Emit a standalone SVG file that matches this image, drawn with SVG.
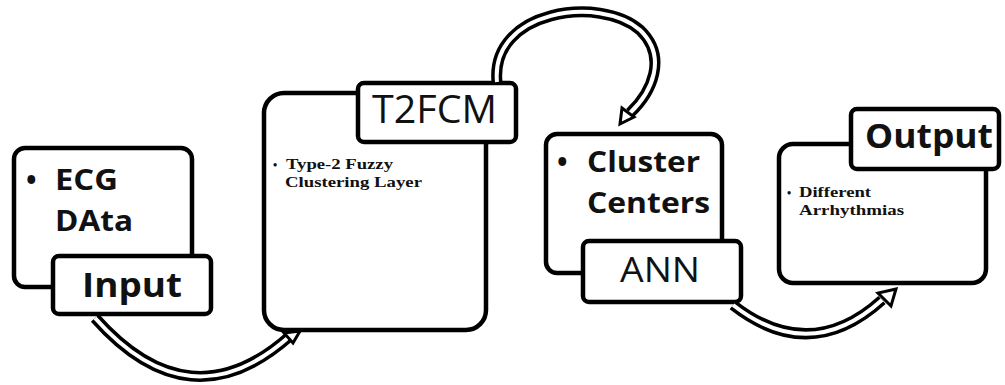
<svg xmlns="http://www.w3.org/2000/svg" width="1005" height="385" viewBox="0 0 1005 385">
<style>
.box{fill:#fff;stroke:#000;stroke-width:4.5}
.lb{fill:#fff;stroke:#000;stroke-width:4.5}
.sb{font-family:"Open Sans","Liberation Sans",sans-serif;font-weight:bold;fill:#111}
.sr{font-family:"Open Sans","Liberation Sans",sans-serif;font-weight:normal;fill:#111}
.tb{font-family:"Liberation Serif","Times New Roman",serif;font-weight:bold;fill:#111}
.ao{fill:none;stroke:#000;stroke-width:11}
.ai{fill:none;stroke:#fff;stroke-width:4}
.ah{fill:#fff;stroke:#000;stroke-width:3;stroke-linejoin:miter}
</style>
<rect width="1005" height="385" fill="#fff"/>
<g id="node-ecg">
<rect class="box" x="14" y="148" width="178" height="139" rx="11"/>
<text class="sb" x="26" y="190" font-size="28">•</text>
<text class="sb" x="55" y="190" font-size="29" textLength="63" lengthAdjust="spacingAndGlyphs">ECG</text>
<text class="sb" x="55" y="231" font-size="29" textLength="78" lengthAdjust="spacingAndGlyphs">DAta</text>
<rect class="lb" x="53" y="256" width="158" height="58" rx="6"/>
<text class="sb" x="82" y="297" font-size="34" textLength="100" lengthAdjust="spacingAndGlyphs">Input</text>
</g>
<g id="node-t2fcm">
<rect class="box" x="264" y="93" width="222" height="237" rx="20"/>
<text class="tb" x="273" y="169" font-size="12">•</text>
<text class="tb" x="286" y="169" font-size="15" textLength="107" lengthAdjust="spacingAndGlyphs">Type-2 Fuzzy</text>
<text class="tb" x="285" y="187" font-size="15" textLength="137" lengthAdjust="spacingAndGlyphs">Clustering Layer</text>
<rect class="lb" x="358" y="83" width="158" height="59" rx="6"/>
<text class="sr" x="372" y="123" font-size="38" textLength="125" lengthAdjust="spacingAndGlyphs">T2FCM</text>
</g>
<g id="node-cluster">
<rect class="box" x="546" y="134" width="176" height="139" rx="11"/>
<text class="sb" x="557" y="172" font-size="28">•</text>
<text class="sb" x="587" y="172" font-size="29" textLength="113" lengthAdjust="spacingAndGlyphs">Cluster</text>
<text class="sb" x="587" y="213" font-size="29" textLength="123" lengthAdjust="spacingAndGlyphs">Centers</text>
<rect class="lb" x="583" y="241" width="158" height="61" rx="6"/>
<text class="sr" x="620" y="282" font-size="35" textLength="80" lengthAdjust="spacingAndGlyphs">ANN</text>
</g>
<g id="node-output">
<rect class="box" x="779" y="144" width="207" height="139" rx="14"/>
<text class="tb" x="787" y="197" font-size="12">•</text>
<text class="tb" x="799" y="197" font-size="14" textLength="72" lengthAdjust="spacingAndGlyphs">Different</text>
<text class="tb" x="799" y="215" font-size="14" textLength="105" lengthAdjust="spacingAndGlyphs">Arrhythmias</text>
<rect class="lb" x="851" y="109" width="148" height="60" rx="6"/>
<text class="sb" x="865" y="148" font-size="34" textLength="128" lengthAdjust="spacingAndGlyphs">Output</text>
</g>
<g id="connectors">
<path class="ao" d="M 95 318 Q 190 425 290 336"/>
<path class="ai" d="M 95 318 Q 190 425 290 336"/>
<polygon class="ah" points="300,331 284,333 293,343"/>
<path class="ao" d="M 497 82 C 490 10 600 -5 640 30 C 668 57 652 92 630 113"/>
<path class="ai" d="M 497 82 C 490 10 600 -5 640 30 C 668 57 652 92 630 113"/>
<polygon class="ah" points="620,124 622,108 634,117"/>
<path class="ao" d="M 733 305 Q 810 365 882 300"/>
<path class="ai" d="M 733 305 Q 810 365 882 300"/>
<polygon class="ah" points="896,289 878,293 891,306"/>
</g>
</svg>
